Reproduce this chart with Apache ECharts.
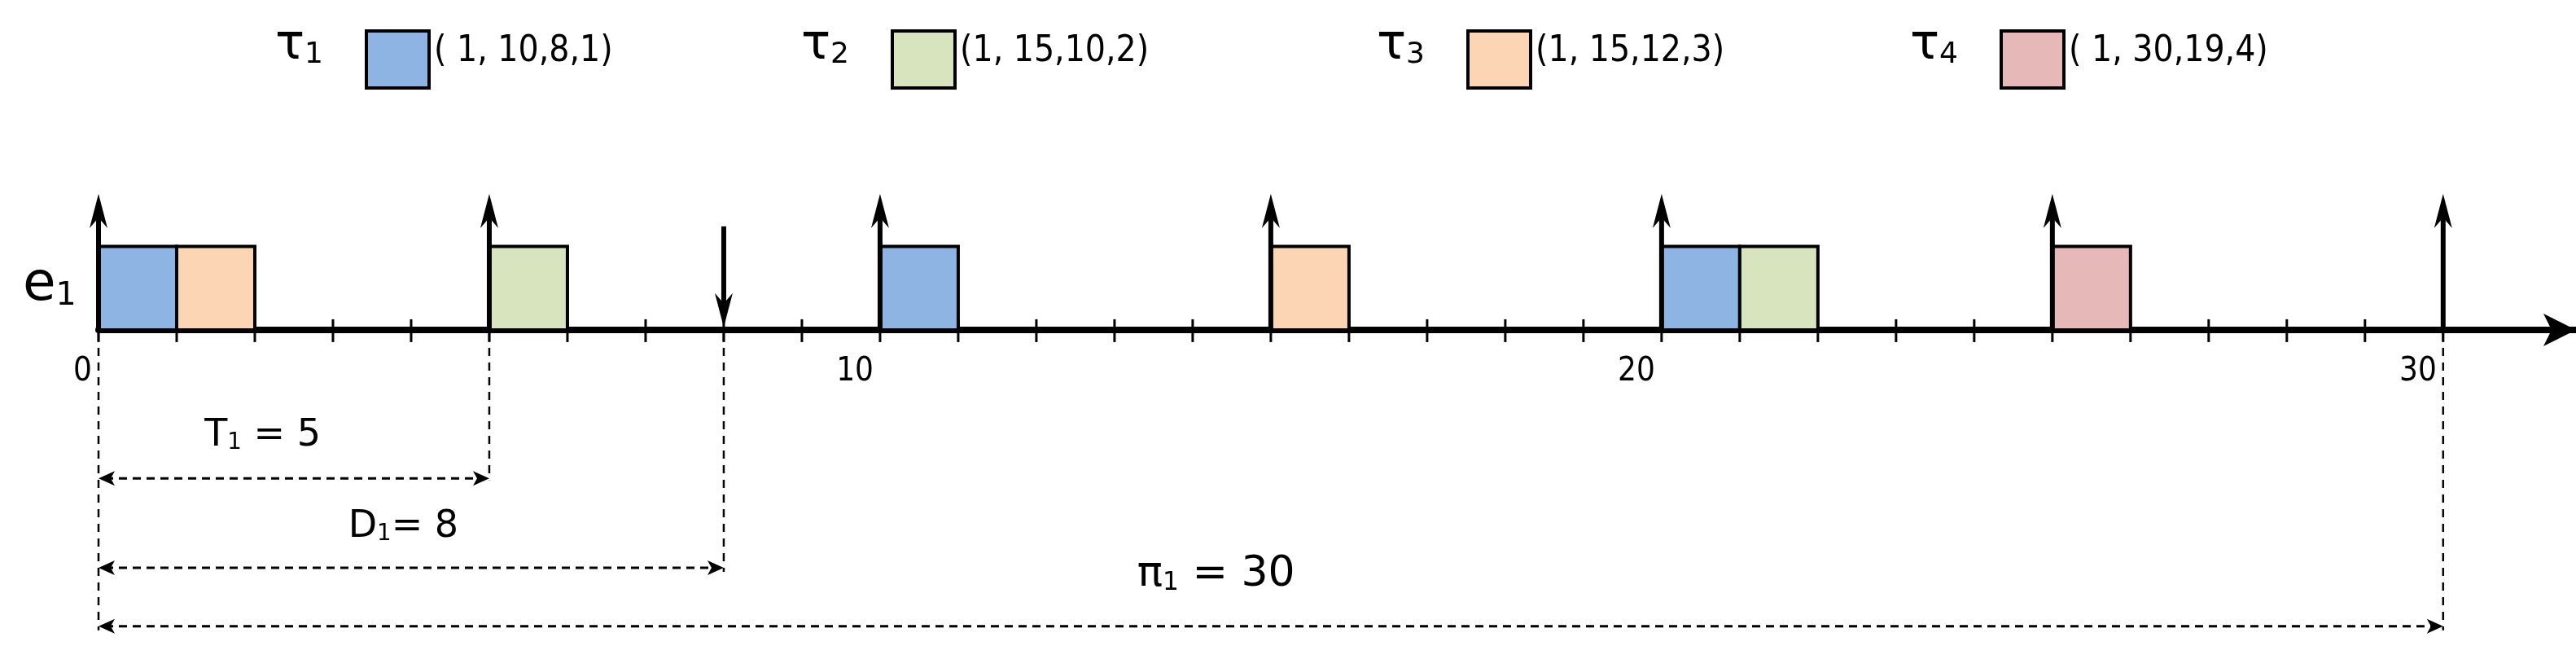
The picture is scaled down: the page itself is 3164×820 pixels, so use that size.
<!DOCTYPE html>
<html><head><meta charset="utf-8">
<script src="https://cdn.jsdelivr.net/npm/echarts@6/dist/echarts.min.js"></script>
<style>html,body{margin:0;background:#fff}#c{width:3164px;height:820px}</style></head>
<body><div id="c"></div>
<script>
const taskNames = ['τ','τ','τ','τ'];
const taskSubs = ['1','2','3','4'];
const taskParams = ['( 1, 10,8,1)','(1, 15,10,2)','(1, 15,12,3)','( 1, 30,19,4)'];
const taskColors = ['#8EB4E3','#D7E4BD','#FCD5B5','#E6B9B8'];
// jobs: [start time, task index]
const jobStarts = [0, 1, 5, 10, 15, 20, 21, 25];
const jobTasks  = [0, 2, 1, 0, 2, 0, 1, 3];
const releaseArrows = [0, 5, 10, 15, 20, 25, 30];
const deadlineArrows = [8];
const tickValues = [0,1,2,3,4,5,6,7,8,9,10,11,12,13,14,15,16,17,18,19,20,21,22,23,24,25,26,27,28,29,30];
const tickLabels = [0,10,20,30];
// annotations: [from, to, label, subscript, rest]
const spans = [[0,5,'T','1',' = 5'],[0,8,'D','1','= 8'],[0,30,'π','1',' = 30']];
const spanY = [-1.78,-2.85,-3.55];
const labelY = [-1.27,-2.36,-2.93];
const labelX = [2.1,3.9,14.3];
const dropLines = [[0,-3.6],[5,-1.8],[8,-2.9],[30,-3.6]];

const chart = echarts.init(document.getElementById('c'));
function arrowHead(x,y,dir,w,h){
  return {type:'polygon',shape:{points:[[x,y],[x-w,y-dir*h],[x,y-dir*h*0.7],[x+w,y-dir*h]]},style:{fill:'#000'}};
}
function richText(main,sub,rest,size){
  return {text:'{m|'+main+'}{s|'+sub+'}{m|'+rest+'}',rich:{
    m:{fontSize:size,fontFamily:'DejaVu Sans',fill:'#000'},
    s:{fontSize:size*0.6,fontFamily:'DejaVu Sans',fill:'#000',verticalAlign:'bottom',padding:[size*0.35,0,0,0]}}};
}
const graphics = [{type:'text',left:28,top:318,style:richText('e','1','',66)}];
const legX=[383,1029,1736,2391];
taskNames.forEach((n,i)=>{
  graphics.push({type:'text',left:legX[i]-45,top:26,style:richText(n,taskSubs[i],'',60)});
  graphics.push({type:'rect',left:legX[i]+65,top:36,shape:{width:77,height:70},style:{fill:taskColors[i],stroke:'#000',lineWidth:4}});
  graphics.push({type:'text',left:legX[i]+150,top:42,style:{text:taskParams[i],font:'44px "Liberation Sans Narrow","DejaVu Sans Condensed"',fill:'#000'}});
});

chart.setOption({
  animation:false,
  grid:{left:121,top:200,width:2916*31.7/30,height:584},
  xAxis:{type:'value',min:0,max:31.7,interval:1,splitLine:{show:false},axisTick:{show:false},axisLabel:{show:false},
    axisLine:{onZero:true,symbol:['none','arrow'],symbolSize:[30,40],lineStyle:{color:'#000',width:8}}},
  yAxis:{type:'value',min:-3.7,max:2,show:false,splitLine:{show:false}},
  graphic:graphics,
  series:[
    {type:'custom',data:tickValues.map(v=>[v]),z:3,renderItem:(p,api)=>{
      const a=api.coord([api.value(0),0]);
      return {type:'line',shape:{x1:a[0],y1:a[1]-13,x2:a[0],y2:a[1]+15},style:{stroke:'#000',lineWidth:3}};}},
    {type:'custom',data:tickLabels.map(v=>[v]),renderItem:(p,api)=>{
      const a=api.coord([api.value(0),0]);
      return {type:'text',x:a[0]-8,y:a[1]+52,style:{text:String(api.value(0)),fontSize:40,fontFamily:'DejaVu Sans Condensed',fill:'#000',align:'right',verticalAlign:'middle'}};}},
    {type:'custom',data:jobStarts.map((s,i)=>[s,jobTasks[i]]),z:4,renderItem:(p,api)=>{
      const a=api.coord([api.value(0),0]),b=api.coord([api.value(0)+1,1]);
      return {type:'rect',shape:{x:a[0],y:b[1],width:b[0]-a[0],height:a[1]-b[1]},
        style:{fill:taskColors[api.value(1)],stroke:'#000',lineWidth:4}};}},
    {type:'custom',data:releaseArrows.map(v=>[v]),z:5,renderItem:(p,api)=>{
      const a=api.coord([api.value(0),0]),b=api.coord([api.value(0),1.63]);
      return {type:'group',children:[
        {type:'line',shape:{x1:a[0],y1:a[1],x2:b[0],y2:b[1]+20},style:{stroke:'#000',lineWidth:6}},
        arrowHead(b[0],b[1],-1,11,42)]};}},
    {type:'custom',data:deadlineArrows.map(v=>[v]),z:5,renderItem:(p,api)=>{
      const a=api.coord([api.value(0),1.24]),b=api.coord([api.value(0),0.03]);
      return {type:'group',children:[
        {type:'line',shape:{x1:a[0],y1:a[1],x2:b[0],y2:b[1]-20},style:{stroke:'#000',lineWidth:6}},
        arrowHead(b[0],b[1],1,11,42)]};}},
    {type:'custom',data:dropLines,renderItem:(p,api)=>{
      const a=api.coord([api.value(0),0]),b=api.coord([api.value(0),api.value(1)]);
      return {type:'line',shape:{x1:a[0],y1:a[1]+4,x2:b[0],y2:b[1]},style:{stroke:'#000',lineWidth:2.5,lineDash:[10,8]}};}},
    {type:'custom',data:spans.map((s,i)=>[s[0],s[1],spanY[i],labelX[i],labelY[i],i]),renderItem:(p,api)=>{
      const a=api.coord([api.value(0),api.value(2)]),b=api.coord([api.value(1),api.value(2)]);
      const l=api.coord([api.value(3),api.value(4)]);
      const i=api.value(5);
      const st=richText(spans[i][2],spans[i][3],spans[i][4],i==2?52:46);
      st.align='center';st.verticalAlign='middle';
      return {type:'group',children:[
        {type:'line',shape:{x1:a[0]+8,y1:a[1],x2:b[0]-8,y2:b[1]},style:{stroke:'#000',lineWidth:3,lineDash:[10,7]}},
        {type:'polygon',shape:{points:[[a[0],a[1]],[a[0]+20,a[1]-9],[a[0]+15,a[1]],[a[0]+20,a[1]+9]]},style:{fill:'#000'}},
        {type:'polygon',shape:{points:[[b[0],b[1]],[b[0]-20,b[1]-9],[b[0]-15,b[1]],[b[0]-20,b[1]+9]]},style:{fill:'#000'}},
        {type:'text',x:l[0],y:l[1],style:st}]};}}
  ]
});
</script></body></html>
